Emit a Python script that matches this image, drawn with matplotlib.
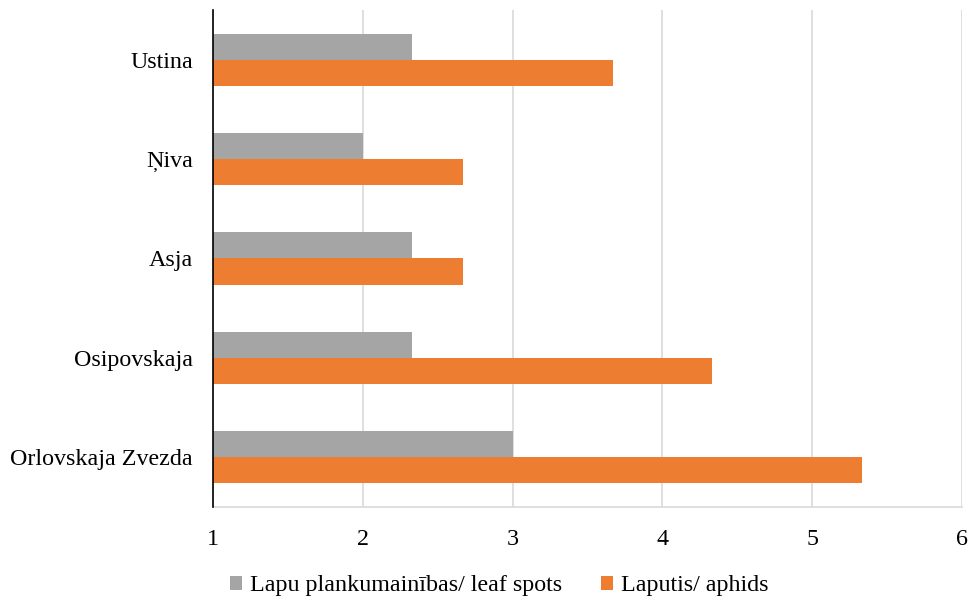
import matplotlib.pyplot as plt
import numpy as np

categories = ["Orlovskaja Zvezda", "Osipovskaja", "Asja", "Ņiva", "Ustina"]
leaf_spots = [3.0, 2.33, 2.33, 2.0, 2.33]
aphids = [5.33, 4.33, 2.67, 2.67, 3.67]
series_names = ["Lapu plankumainības/ leaf spots", "Laputis/ aphids"]
x_ticks = [1, 2, 3, 4, 5, 6]

plt.rcParams['font.family'] = ['Liberation Serif', 'DejaVu Serif']

fig = plt.figure(figsize=(9.69, 5.99), dpi=100)
ax = fig.add_axes([0.2198, 0.1536, 0.9928 - 0.2198, 0.9833 - 0.1536])

y = np.arange(len(categories))
h = 0.262
base = 1
ax.barh(y + h / 2, np.array(leaf_spots) - base, left=base, height=h,
        color='#a5a5a5', label=series_names[0], zorder=3)
ax.barh(y - h / 2, np.array(aphids) - base, left=base, height=h,
        color='#ed7d31', label=series_names[1], zorder=3)

ax.set_xlim(1, 6)
ax.set_ylim(-0.5, len(categories) - 0.5)
ax.set_xticks(x_ticks)
ax.set_xticklabels([str(t) for t in x_ticks])
ax.set_yticks(y)
ax.set_yticklabels(categories)
ax.tick_params(axis='both', length=0, labelsize=17.3, colors='#000000')
ax.tick_params(axis='x', pad=16)
ax.tick_params(axis='y', pad=14.5)

ax.grid(axis='x', color='#d9d9d9', linewidth=1.2, zorder=0)
for s in ['top', 'right']:
    ax.spines[s].set_visible(False)
ax.spines['left'].set_color('#000000')
ax.spines['left'].set_linewidth(1.2)
ax.spines['left'].set_zorder(4)
ax.spines['bottom'].set_color('#d9d9d9')
ax.spines['bottom'].set_linewidth(1.2)

fig.legend(loc='center', bbox_to_anchor=(0.5155, 0.022), ncol=2, frameon=False,
           fontsize=17.3, handlelength=0.5, handleheight=0.5, handletextpad=0.35,
           columnspacing=1.6)

fig.savefig('out.png', dpi=100)
